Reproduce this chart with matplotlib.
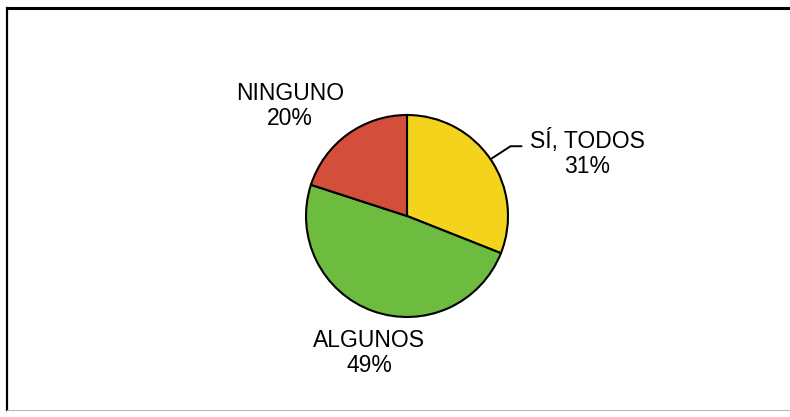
import matplotlib
matplotlib.use("Agg")
import matplotlib.pyplot as plt
from matplotlib.lines import Line2D
import numpy as np

# Data
labels = ["SÍ, TODOS", "ALGUNOS", "NINGUNO"]
values = [31, 49, 20]
colors = ["#F3D31C", "#6DBB3F", "#D44E3C"]

plt.rcParams["font.family"] = ["Liberation Sans", "DejaVu Sans"]

W, H = 790, 417
fig = plt.figure(figsize=(W / 100, H / 100), dpi=100)
ax = fig.add_axes([0, 0, 1, 1])

cx, cy, r = 407, H - 216, 101
wedges, _ = ax.pie(values, colors=colors, startangle=90, counterclock=False,
                   center=(cx, cy), radius=r, frame=True,
                   wedgeprops=dict(edgecolor="black", linewidth=1.5))
ax.set_xlim(0, W)
ax.set_ylim(0, H)
ax.set_aspect("equal")
ax.axis("off")

# label anchors: (x centre, baseline of first line) in pixels from top-left
label_pos = {
    "SÍ, TODOS": (587, 148),
    "ALGUNOS": (369, 347),
    "NINGUNO": (290, 100),
}
for w, lab, v in zip(wedges, labels, values):
    tx, ty = label_pos[lab]
    ax.text(tx, H - ty, lab, ha="center", va="baseline", fontsize=16.5)
    ax.text(tx, H - ty - 25, f"{v}%", ha="center", va="baseline", fontsize=16.5)
    if lab == "SÍ, TODOS":
        mid = np.deg2rad((w.theta1 + w.theta2) / 2)
        x0, y0 = cx + r * np.cos(mid), cy + r * np.sin(mid)
        ax.plot([x0, x0 + 20, x0 + 31], [y0, y0 + 13, y0 + 13],
                color="black", lw=1.4, solid_capstyle="round")

# chart frame
fig.add_artist(Line2D([7 / W, 1], [1 - 8 / H, 1 - 8 / H], color="black", lw=2.2))
fig.add_artist(Line2D([7 / W, 7 / W], [1 - 8 / H, 1 - 410 / H], color="black", lw=1.6))
fig.add_artist(Line2D([7 / W, 1], [1 - 410 / H, 1 - 410 / H], color="#bbbbbb", lw=0.8))

fig.savefig("out.png", dpi=100)
